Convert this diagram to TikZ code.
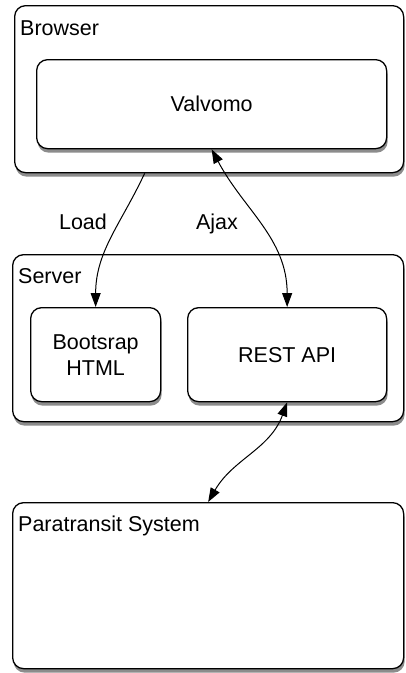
\documentclass[tikz,border=0pt]{standalone}
\usepackage{fontspec}
\setmainfont{Liberation Sans}
\usetikzlibrary{arrows.meta}

\begin{document}
\begin{tikzpicture}[x=1pt,y=1pt,
	box/.style={draw, line width=1.3pt, rounded corners=11pt, fill=white, inner sep=0pt, anchor=north west,
		preaction={fill=black!45, transform canvas={xshift=1pt,yshift=-4pt}},
		font=\fontsize{21.5}{26}\selectfont, align=center},
	title/.style={anchor=base west, inner sep=0pt, font=\fontsize{21.5}{26}\selectfont},
	head/.tip={Triangle[length=14pt,width=10pt]},
	link/.style={line width=1pt}]
		
		\useasboundingbox (0,0) rectangle (405,-673);
		
		\node[box, minimum width=389pt, minimum height=167pt] (B) at (14,-5) {};
		\node[title] (b) at ([xshift=6pt,yshift=-30pt]B.north west) {Browser};
		\node[box, minimum width=350pt, minimum height=89pt] (V) at (36,-59) {Valvomo};
		
		\node[box, minimum width=391pt, minimum height=167pt] (S) at (12,-254) {};
		\node[title] (s) at ([xshift=6pt,yshift=-29pt]S.north west) {Server};
		\node[box, minimum width=130pt, minimum height=94pt] (H) at (30,-307) {Bootsrap\\HTML};
		\node[box, minimum width=199pt, minimum height=94pt] (R) at (187,-307) {REST API};
		
		\node[box, minimum width=391pt, minimum height=166pt] (P) at (12,-502) {};
		\node[title] (p) at ([xshift=6pt,yshift=-29pt]P.north west) {Paratransit System};
		
		\draw[link, -head] ([xshift=-64.5pt]B.south) to[out=-115,in=90] (H.north);
		\draw[link, head-head] (V.south) to[out=-62,in=90] (R.north);
		\draw[link, head-head] (R.south) to[out=-110,in=60] (P.north);
		
		\node[anchor=base, inner sep=0pt, font=\fontsize{21.5}{26}\selectfont] (l) at (83,-229) {Load};
		\node[anchor=base, inner sep=0pt, font=\fontsize{21.5}{26}\selectfont] (a) at (217,-229) {Ajax};
	\end{tikzpicture}
\end{document}
